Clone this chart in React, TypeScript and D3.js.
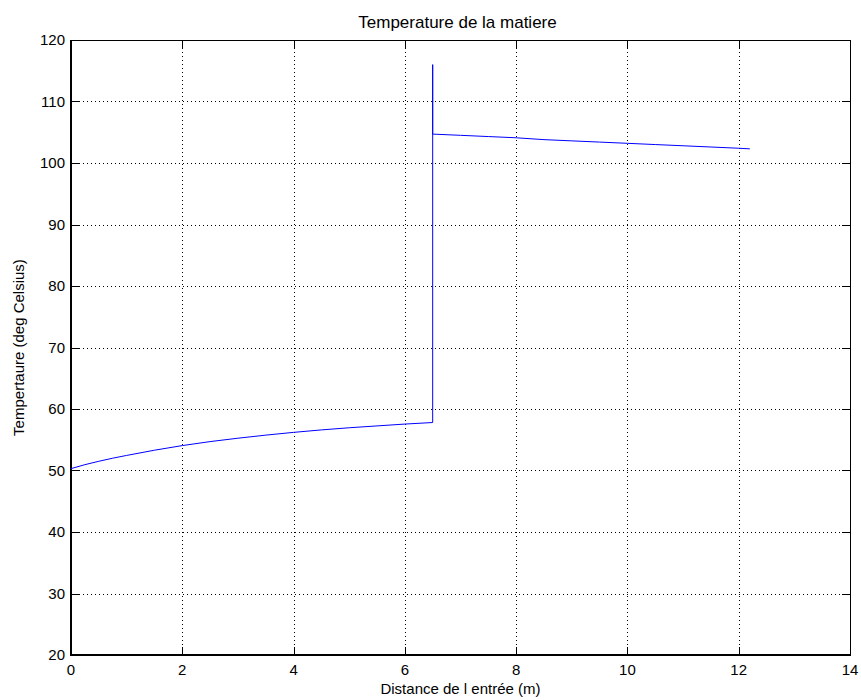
import React, { useEffect, useRef } from 'react';
import * as d3 from 'd3';

// distance (m) and temperature (deg C)
const distance = [0, 0.25, 0.5, 0.75, 1, 1.5, 2, 2.5, 3, 3.5, 4, 4.5, 5, 5.5, 6, 6.5, 6.5, 6.5, 7, 7.5, 8, 8.5, 9, 9.5, 10, 10.5, 11, 11.5, 12, 12.2];
const temperature = [50.3, 50.95, 51.5, 52.0, 52.45, 53.3, 54.05, 54.7, 55.25, 55.75, 56.2, 56.6, 56.95, 57.25, 57.55, 57.8, 116.0, 104.7, 104.5, 104.3, 104.1, 103.8, 103.6, 103.4, 103.2, 103.0, 102.8, 102.6, 102.4, 102.3];

const xTicks = [0, 2, 4, 6, 8, 10, 12, 14];
const yTicks = [20, 30, 40, 50, 60, 70, 80, 90, 100, 110, 120];

const W = 861;
const H = 700;
const left = 71, right = 850, top = 40, bottom = 655;

function App() {
  const ref = useRef<SVGSVGElement>(null);

  useEffect(() => {
    const svg = d3.select(ref.current);
    svg.selectAll('*').remove();
    const font = 'Liberation Sans, Arial, Helvetica, sans-serif';

    const x = d3.scaleLinear().domain([0, 14]).range([left, right]);
    const y = d3.scaleLinear().domain([20, 120]).range([bottom, top]);

    svg.append('rect').attr('width', W).attr('height', H).attr('fill', '#fff');

    // grid
    const grid = svg.append('g')
      .attr('stroke', '#000')
      .attr('stroke-width', 1)
      .attr('stroke-dasharray', '1,3');
    grid.selectAll('line.gx')
      .data(xTicks.slice(1, -1))
      .enter()
      .append('line')
      .attr('x1', d => Math.round(x(d)) + 0.5)
      .attr('x2', d => Math.round(x(d)) + 0.5)
      .attr('y1', top)
      .attr('y2', bottom);
    grid.selectAll('line.gy')
      .data(yTicks.slice(1, -1))
      .enter()
      .append('line')
      .attr('y1', d => Math.round(y(d)) + 0.5)
      .attr('y2', d => Math.round(y(d)) + 0.5)
      .attr('x1', left)
      .attr('x2', right);

    // ticks inward on all sides
    const ticks = svg.append('g').attr('stroke', '#000').attr('stroke-width', 1);
    xTicks.forEach(t => {
      const px = Math.round(x(t)) + 0.5;
      ticks.append('line').attr('x1', px).attr('x2', px).attr('y1', bottom).attr('y2', bottom - 8);
      ticks.append('line').attr('x1', px).attr('x2', px).attr('y1', top).attr('y2', top + 8);
    });
    yTicks.forEach(t => {
      const py = Math.round(y(t)) + 0.5;
      ticks.append('line').attr('y1', py).attr('y2', py).attr('x1', left).attr('x2', left + 8);
      ticks.append('line').attr('y1', py).attr('y2', py).attr('x1', right).attr('x2', right - 8);
    });

    // box
    svg.append('line').attr('x1', left).attr('x2', right).attr('y1', top + 0.5).attr('y2', top + 0.5).attr('stroke', '#000');
    svg.append('line').attr('x1', right + 0.5).attr('x2', right + 0.5).attr('y1', top).attr('y2', bottom).attr('stroke', '#000');
    svg.append('line').attr('x1', left - 1).attr('x2', right + 1).attr('y1', bottom).attr('y2', bottom).attr('stroke', '#000').attr('stroke-width', 2);
    svg.append('line').attr('x1', left).attr('x2', left).attr('y1', top).attr('y2', bottom + 1).attr('stroke', '#000').attr('stroke-width', 2);

    // data line
    const line = d3.line<number>()
      .x((d, i) => x(distance[i]))
      .y(d => y(d));
    svg.append('path')
      .attr('d', line(temperature))
      .attr('fill', 'none')
      .attr('stroke', '#0000ff')
      .attr('stroke-width', 1);

    // tick labels
    svg.selectAll('text.xt')
      .data(xTicks)
      .enter()
      .append('text')
      .attr('x', d => x(d))
      .attr('y', bottom + 20)
      .attr('text-anchor', 'middle')
      .attr('font-family', font)
      .attr('font-size', 15)
      .text(d => d);
    svg.selectAll('text.yt')
      .data(yTicks)
      .enter()
      .append('text')
      .attr('x', left - 6)
      .attr('y', d => y(d) + 5)
      .attr('text-anchor', 'end')
      .attr('font-family', font)
      .attr('font-size', 15)
      .text(d => d);

    // titles
    svg.append('text')
      .attr('x', (left + right) / 2 - 3)
      .attr('y', 28)
      .attr('text-anchor', 'middle')
      .attr('font-family', font)
      .attr('font-size', 17)
      .text('Temperature de la matiere');
    svg.append('text')
      .attr('x', (left + right) / 2)
      .attr('y', 694)
      .attr('text-anchor', 'middle')
      .attr('font-family', font)
      .attr('font-size', 15)
      .text('Distance de l entrée (m)');
    svg.append('text')
      .attr('transform', `translate(24, ${(top + bottom) / 2}) rotate(-90)`)
      .attr('text-anchor', 'middle')
      .attr('font-family', font)
      .attr('font-size', 15)
      .text('Tempertaure (deg Celsius)');
  }, []);

  return (
    <div>
      <svg ref={ref} width={W} height={H} style={{ position: 'absolute', left: 0, top: 0 }}></svg>
    </div>
  );
}

export default App;
